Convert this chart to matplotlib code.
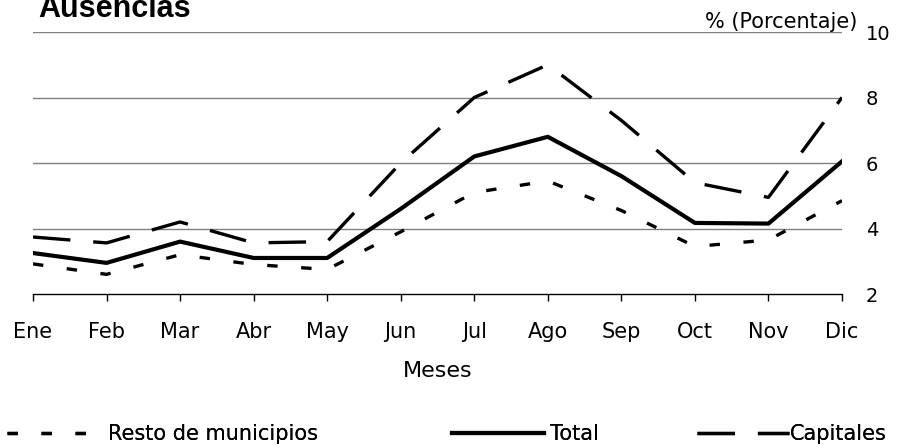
import matplotlib.pyplot as plt

plt.rcParams['font.family'] = ['DejaVu Sans']
plt.rcParams['lines.scale_dashes'] = False

# Data
meses = ['Ene', 'Feb', 'Mar', 'Abr', 'May', 'Jun', 'Jul', 'Ago', 'Sep', 'Oct', 'Nov', 'Dic']
resto = [2.92, 2.6, 3.2, 2.9, 2.75, 3.9, 5.1, 5.45, 4.55, 3.45, 3.65, 4.85]
total = [3.25, 2.95, 3.6, 3.1, 3.1, 4.6, 6.2, 6.8, 5.6, 4.17, 4.15, 6.05]
capitales = [3.74, 3.56, 4.2, 3.56, 3.6, 6.0, 8.0, 9.0, 7.3, 5.4, 4.95, 8.0]
yticks = [2, 4, 6, 8, 10]

W, H = 908, 448
fig = plt.figure(figsize=(W / 100, H / 100), dpi=100)
ax = fig.add_axes([33 / W, 1 - 294 / H, (842 - 33) / W, (294 - 32) / H])

x = range(len(meses))
l1, = ax.plot(x, resto, color='black', lw=2.4, dashes=(7.5, 17), label='Resto de municipios')
l2, = ax.plot(x, total, color='black', lw=3.0, label='Total')
l3, = ax.plot(x, capitales, color='black', lw=2.4, dashes=(27, 16.5), label='Capitales')

ax.set_xlim(0, 11)
ax.set_ylim(2, 10)
for yv in yticks[1:]:
    ax.axhline(yv, color='#808080', lw=1, zorder=0)

# Axes styling
for s in ['top', 'left', 'right']:
    ax.spines[s].set_visible(False)
ax.spines['bottom'].set_linewidth(1)
ax.set_xticks(list(x))
ax.set_xticklabels(meses, fontsize=15)
ax.tick_params(axis='x', direction='out', length=5, width=1, pad=15)
ax.yaxis.tick_right()
ax.set_yticks(yticks)
ax.set_yticklabels([str(v) for v in yticks], fontsize=14)
ax.tick_params(axis='y', length=0, pad=17)
ax.set_xlabel('Meses', fontsize=16, labelpad=14)

fig.text(38 / W, 1 - 17 / H, 'Ausencias', fontsize=22, fontweight='bold',
         family='Liberation Sans', va='baseline', ha='left')
fig.text(857 / W, 1 - 22 / H, '% (Porcentaje)', fontsize=15, va='center', ha='right')

# Legend: three entries placed across the bottom
for handle, x0, pad in [(l1, 7, 0.45), (l2, 452, 0.3), (l3, 697, 0.05)]:
    leg = fig.legend(handles=[handle], loc='center left', bbox_to_anchor=(x0 / W, 1 - 434 / H),
                     frameon=False, fontsize=15, handlelength=4.4, handletextpad=pad,
                     borderpad=0, borderaxespad=0)
    fig.add_artist(leg)

fig.savefig('out.png', dpi=100)
